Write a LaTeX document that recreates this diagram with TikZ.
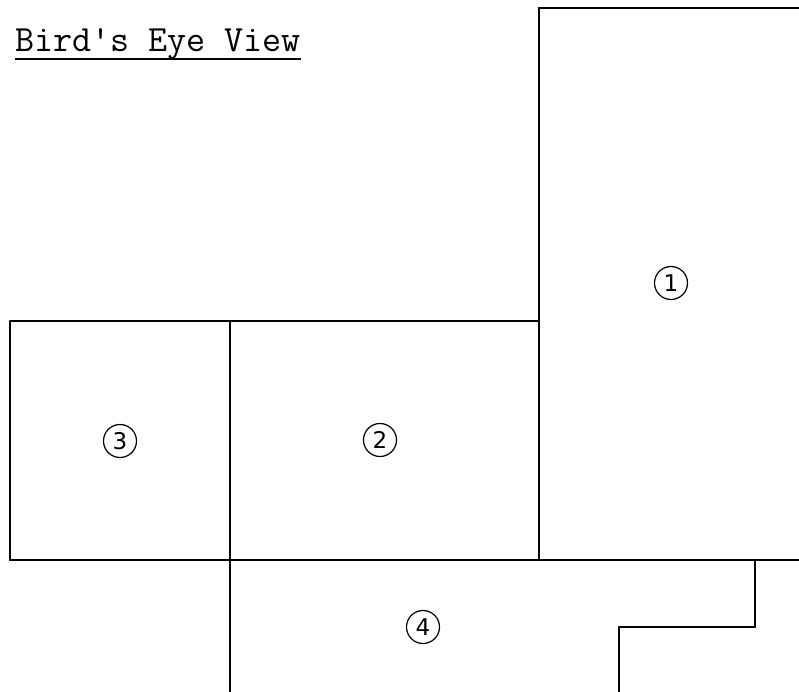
\documentclass[tikz,border=0pt]{standalone}
\usepackage{fontspec}
\setsansfont{DejaVu Sans}
\tikzset{
  wall/.style={line width=1.4pt, line cap=round},
  lotnum/.style={draw, circle, line width=1.2pt, minimum size=33pt, inner sep=0pt, font=\sffamily\fontsize{23}{23}\selectfont}
}
\begin{document}
\begin{tikzpicture}[x=1pt, y=-1pt]
  \useasboundingbox (0,0) rectangle (799,692);
  % title
  \node[anchor=base west, inner sep=0pt, font=\ttfamily\fontsize{37}{37}\selectfont] (title) at (15,52) {Bird's Eye View};
  \draw[line width=1.4pt] ([yshift=-7pt]title.base west) -- ([yshift=-7pt]title.base east);
  % outlines
  \draw[wall] (799,8) -- (539,8) -- (539,560);
  \draw[wall] (10,321) -- (539,321);
  \draw[wall] (10,321) -- (10,560) -- (799,560);
  \draw[wall] (230,321) -- (230,692);
  \draw[wall] (755,560) -- (755,627) -- (619,627) -- (619,692);
  % numbers
  \node[lotnum] (one) at (671,283) {1};
  \node[lotnum] (two) at (380,440) {2};
  \node[lotnum] (three) at (120,441) {3};
  \node[lotnum] (four) at (423,627) {4};
\end{tikzpicture}
\end{document}
